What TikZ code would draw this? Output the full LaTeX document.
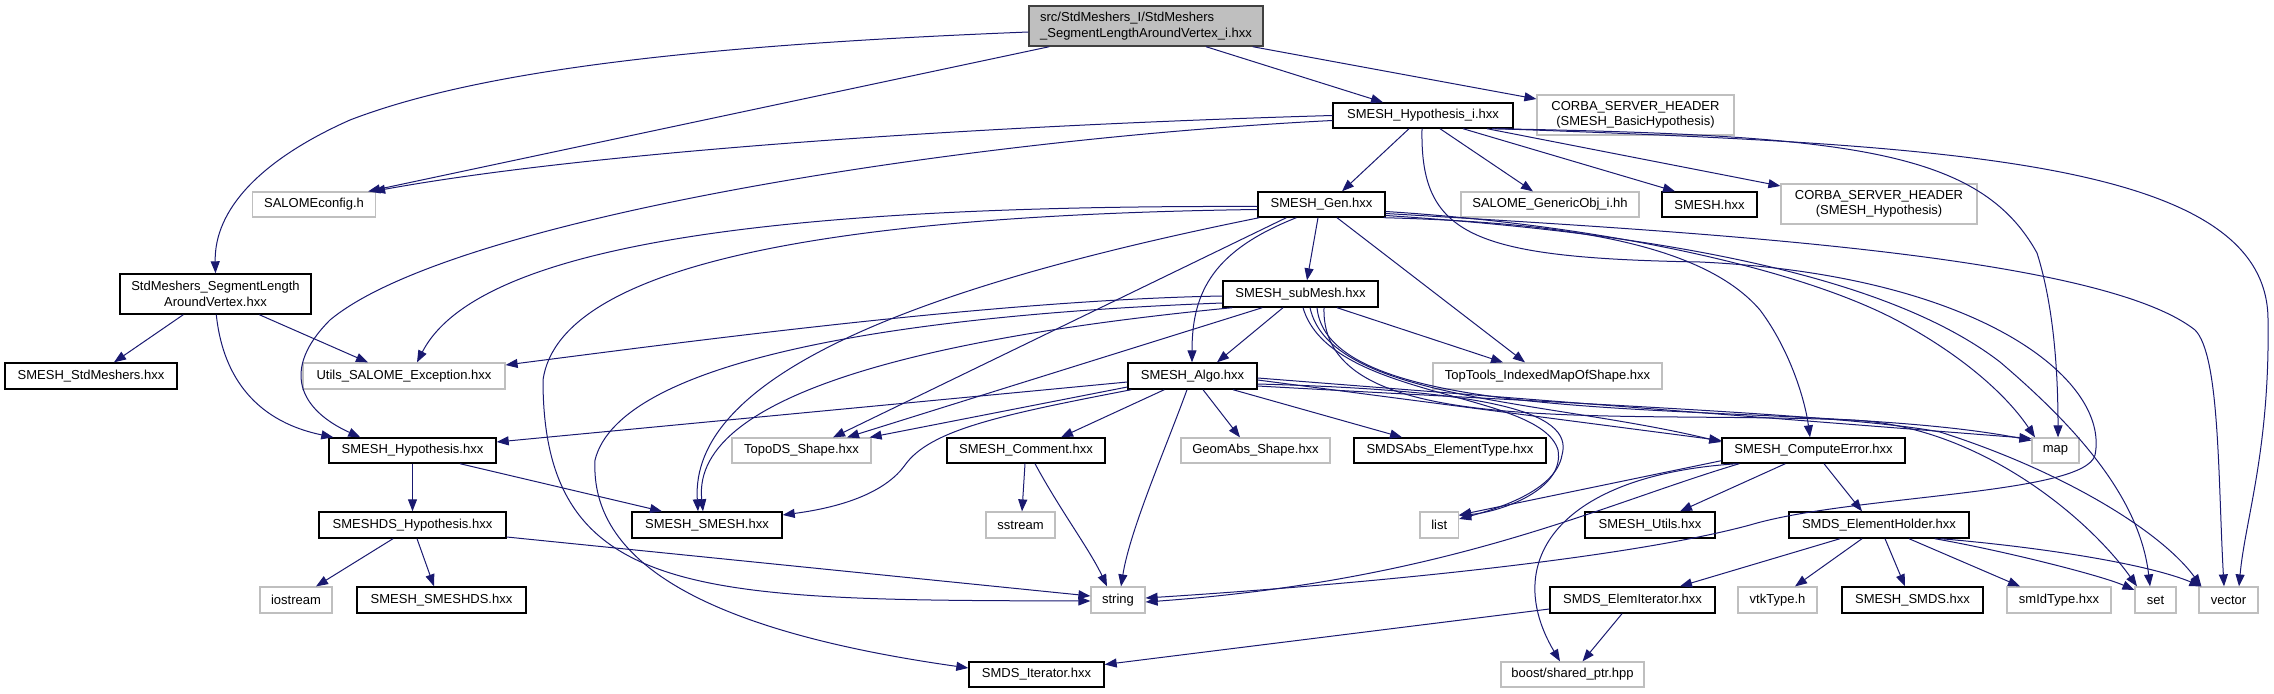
\documentclass[tikz,border=0pt]{standalone}
\usepackage{fontspec}
\setmainfont{Liberation Sans}
\usetikzlibrary{arrows.meta}
\definecolor{edgeblue}{HTML}{191970}
\definecolor{nodegrey}{HTML}{BFBFBF}
\definecolor{mainborder}{HTML}{404040}
\begin{document}
\begin{tikzpicture}[x=1pt,y=-1pt,
  nbase/.style={rectangle, inner sep=0pt, font=\fontsize{13}{15.5}\selectfont, align=center, text=black},
  doc/.style={nbase, draw=black, line width=1.4pt},
  undoc/.style={nbase, draw=nodegrey, line width=1.2pt},
  mainnode/.style={nbase, draw=mainborder, fill=nodegrey, line width=1.4pt, align=left},
  e/.style={draw=edgeblue, line width=1pt, -{Triangle[length=12pt,width=9pt]}},
]
\useasboundingbox (0,0) rectangle (2274,693);

% ---- nodes
\node[mainnode, minimum width=234pt, minimum height=40pt] (main) at (1146,26) {src/StdMeshers\_I/StdMeshers\\\_SegmentLengthAroundVertex\_i.hxx};
\node[doc, minimum width=180pt, minimum height=25pt] (hypi) at (1423,115.5) {SMESH\_Hypothesis\_i.hxx};
\node[undoc, minimum width=197pt, minimum height=40pt] (corbaB) at (1635.5,115) {CORBA\_SERVER\_HEADER\\(SMESH\_BasicHypothesis)};
\node[undoc, minimum width=123pt, minimum height=25pt] (salcfg) at (314,204.5) {SALOMEconfig.h};
\node[doc, minimum width=127pt, minimum height=25pt] (gen) at (1321.5,204.5) {SMESH\_Gen.hxx};
\node[undoc, minimum width=178pt, minimum height=25pt] (genobj) at (1550,204.5) {SALOME\_GenericObj\_i.hh};
\node[doc, minimum width=95pt, minimum height=25pt] (smesh) at (1709.5,204.5) {SMESH.hxx};
\node[undoc, minimum width=196pt, minimum height=40pt] (corbaH) at (1879,204) {CORBA\_SERVER\_HEADER\\(SMESH\_Hypothesis)};
\node[doc, minimum width=191pt, minimum height=40pt] (slav) at (215.5,294) {StdMeshers\_SegmentLength\\AroundVertex.hxx};
\node[doc, minimum width=155pt, minimum height=26pt] (submesh) at (1300.5,294) {SMESH\_subMesh.hxx};
\node[doc, minimum width=172pt, minimum height=26pt] (stdm) at (91,376) {SMESH\_StdMeshers.hxx};
\node[undoc, minimum width=202pt, minimum height=26pt] (utils) at (404,376) {Utils\_SALOME\_Exception.hxx};
\node[doc, minimum width=129pt, minimum height=26pt] (algo) at (1192.5,376) {SMESH\_Algo.hxx};
\node[undoc, minimum width=229pt, minimum height=26pt] (toptools) at (1547.5,376) {TopTools\_IndexedMapOfShape.hxx};
\node[doc, minimum width=167pt, minimum height=25pt] (hyp) at (412.5,450.5) {SMESH\_Hypothesis.hxx};
\node[undoc, minimum width=139pt, minimum height=25pt] (topods) at (801.5,450.5) {TopoDS\_Shape.hxx};
\node[doc, minimum width=158pt, minimum height=25pt] (comment) at (1026,450.5) {SMESH\_Comment.hxx};
\node[undoc, minimum width=149pt, minimum height=25pt] (geomabs) at (1255.5,450.5) {GeomAbs\_Shape.hxx};
\node[doc, minimum width=192pt, minimum height=25pt] (smdsabs) at (1450,450.5) {SMDSAbs\_ElementType.hxx};
\node[doc, minimum width=183pt, minimum height=25pt] (comperr) at (1813.5,450.5) {SMESH\_ComputeError.hxx};
\node[undoc, minimum width=47pt, minimum height=25pt] (map) at (2055.5,450.5) {map};
\node[doc, minimum width=187pt, minimum height=26pt] (smeshdsh) at (412.5,525) {SMESHDS\_Hypothesis.hxx};
\node[doc, minimum width=150pt, minimum height=26pt] (smeshsmesh) at (707,525) {SMESH\_SMESH.hxx};
\node[undoc, minimum width=69pt, minimum height=26pt] (sstream) at (1020.5,525) {sstream};
\node[undoc, minimum width=38.5pt, minimum height=26pt] (list) at (1439.25,525) {list};
\node[doc, minimum width=130pt, minimum height=26pt] (utilsh) at (1650,525) {SMESH\_Utils.hxx};
\node[doc, minimum width=180pt, minimum height=26pt] (elemholder) at (1879,525) {SMDS\_ElementHolder.hxx};
\node[undoc, minimum width=72pt, minimum height=26pt] (iostream) at (296,600) {iostream};
\node[doc, minimum width=169pt, minimum height=26pt] (smeshds) at (441.5,600) {SMESH\_SMESHDS.hxx};
\node[undoc, minimum width=54pt, minimum height=26pt] (string) at (1118,600) {string};
\node[doc, minimum width=165pt, minimum height=26pt] (elemiter) at (1632.5,600) {SMDS\_ElemIterator.hxx};
\node[undoc, minimum width=79pt, minimum height=26pt] (vtk) at (1777.5,600) {vtkType.h};
\node[doc, minimum width=141pt, minimum height=26pt] (smds) at (1912.5,600) {SMESH\_SMDS.hxx};
\node[undoc, minimum width=104pt, minimum height=26pt] (smid) at (2059,600) {smIdType.hxx};
\node[undoc, minimum width=41pt, minimum height=26pt] (set) at (2155.5,600) {set};
\node[undoc, minimum width=59pt, minimum height=26pt] (vector) at (2228.5,600) {vector};
\node[doc, minimum width=135pt, minimum height=25pt] (smdsiter) at (1036.5,674.5) {SMDS\_Iterator.hxx};
\node[undoc, minimum width=143pt, minimum height=25pt] (boost) at (1572.5,674.5) {boost/shared\_ptr.hpp};

% ---- edges: main
\draw[e] ([yshift=-6pt]main.west) .. controls (700,45) and (480,70) .. (350,120) .. controls (260,160) and (214,210) .. (slav.north);
\draw[e] ([xshift=21pt]main.south west) -- ([xshift=-8pt]salcfg.north east);
\draw[e] ([xshift=60pt]main.south) -- ([xshift=-40pt]hypi.north);
\draw[e] ([xshift=-11pt]main.south east) -- ([yshift=16pt]corbaB.west);

% ---- hypothesis_i
\draw[e] (hypi.west) .. controls (1000,125) and (600,150) .. ([xshift=-3pt]salcfg.north east);
\draw[e] ([yshift=-5pt]hypi.west) .. controls (950,140) and (450,220) .. (330,320) .. controls (280,370) and (300,410) .. ([xshift=32pt]hyp.north west);
\draw[e] ([xshift=-14pt]hypi.south) -- ([xshift=20.5pt]gen.north);
\draw[e] ([xshift=17pt]hypi.south) -- ([xshift=-17pt]genobj.north);
\draw[e] ([xshift=40pt]hypi.south) -- ([xshift=-34.5pt]smesh.north);
\draw[e] ([xshift=64pt]hypi.south) -- ([yshift=18pt]corbaH.west);
\draw[e] ([xshift=69pt]hypi.south) .. controls (1850,135) and (1980,150) .. (2037,253) .. controls (2055,310) and (2058,380) .. ([xshift=2.5pt]map.north);
\draw[e] ([xshift=74pt]hypi.south) .. controls (1950,145) and (2268,160) .. (2268,320) .. controls (2270,450) and (2245,520) .. ([xshift=10.5pt]vector.north);
\draw[e] ([xshift=-1pt]hypi.south) .. controls (1420,235) and (1470,258) .. (1700,262) .. controls (1980,275) and (2110,380) .. (2095,455) .. controls (2085,495) and (1850,495) .. (1750,525) .. controls (1620,560) and (1350,585) .. ([yshift=2pt]string.east);

% ---- StdMeshers_SegmentLengthAroundVertex
\draw[e] ([xshift=64pt]slav.south west) -- ([xshift=23pt]stdm.north);
\draw[e] ([xshift=97pt]slav.south west) .. controls (222,370) and (250,420) .. ([xshift=5pt]hyp.north west);
\draw[e] ([xshift=140pt]slav.south west) -- ([xshift=-36pt]utils.north);

% ---- SMESH_Gen
\draw[e] ([yshift=-2pt]gen.west) .. controls (800,205) and (480,240) .. ([xshift=13pt]utils.north);
\draw[e] ([yshift=-5pt]gen.west) .. controls (850,215) and (560,260) .. (543,380) .. controls (543,600) and (700,600) .. ([yshift=-1pt]string.west);
\draw[e] ([xshift=2pt]gen.south west) .. controls (900,290) and (690,380) .. ([xshift=-9pt]smeshsmesh.north);
\draw[e] ([xshift=29pt]gen.south west) -- ([xshift=31.5pt]topods.north);
\draw[e] ([xshift=39pt]gen.south west) .. controls (1215,250) and (1192,290) .. ([xshift=-0.5pt]algo.north);
\draw[e] ([xshift=-3.5pt]gen.south) -- ([xshift=6.5pt]submesh.north);
\draw[e] ([xshift=15.5pt]gen.south) -- ([xshift=-22.5pt]toptools.north);
\draw[e] ([xshift=-2pt]gen.south east) .. controls (1550,222) and (1700,240) .. (1760,310) .. controls (1790,350) and (1805,400) .. ([xshift=-3.5pt]comperr.north);
\draw[e] ([yshift=-9pt]gen.east) .. controls (1700,232) and (2100,255) .. (2195,330) .. controls (2220,355) and (2218,480) .. ([xshift=-4.5pt]vector.north);
\draw[e] ([yshift=-7pt]gen.east) .. controls (1600,225) and (1800,268) .. (1900,322) .. controls (1970,360) and (2010,400) .. ([xshift=-20.5pt]map.north);
\draw[e] ([yshift=-11pt]gen.east) .. controls (1700,236) and (1900,285) .. (2000,362) .. controls (2080,430) and (2140,500) .. ([xshift=-5.5pt]set.north);

% ---- SMESH_subMesh
\draw[e] ([yshift=-2pt]submesh.west) .. controls (1000,300) and (700,340) .. ([yshift=11pt]utils.east);
\draw[e] ([yshift=-9pt]submesh.west) .. controls (900,315) and (620,360) .. (595,460) .. controls (590,560) and (700,630) .. ([yshift=6.5pt]smdsiter.west);
\draw[e] ([xshift=10pt]submesh.south west) .. controls (950,335) and (690,390) .. ([xshift=-4pt]smeshsmesh.north);
\draw[e] ([xshift=40pt]submesh.south west) -- ([xshift=45.5pt]topods.north);
\draw[e] ([xshift=-17.5pt]submesh.south) -- ([xshift=24.5pt]algo.north);
\draw[e] ([xshift=36.5pt]submesh.south) -- ([xshift=-44.5pt]toptools.north);
\draw[e] ([xshift=2.5pt]submesh.south) .. controls (1330,400) and (1540,390) .. (1558,450) .. controls (1565,490) and (1500,512) .. ([yshift=-4pt]list.north east);
\draw[e] ([xshift=9.5pt]submesh.south) .. controls (1330,400) and (1550,400) .. ([yshift=8.5pt]comperr.west);
\draw[e] ([xshift=16.5pt]submesh.south) .. controls (1330,440) and (1800,395) .. ([yshift=10pt]map.west);
\draw[e] ([xshift=23.5pt]submesh.south) .. controls (1320,440) and (1600,410) .. (1850,420) .. controls (1980,425) and (2090,520) .. ([xshift=-18.5pt]set.north);

% ---- SMESH_Algo
\draw[e] ([yshift=-6pt]algo.west) -- ([yshift=8.5pt]hyp.east);
\draw[e] ([yshift=-11pt]algo.west) -- ([xshift=-2pt]topods.north east);
\draw[e] ([xshift=4pt]algo.south west) .. controls (1000,415) and (930,430) .. (905,465) .. controls (880,500) and (820,510) .. ([yshift=10pt]smeshsmesh.east);
\draw[e] ([xshift=37pt]algo.south west) -- ([xshift=35pt]comment.north);
\draw[e] ([xshift=-5.5pt]algo.south) .. controls (1165,450) and (1130,530) .. ([xshift=3pt]string.north);
\draw[e] ([xshift=10.5pt]algo.south) -- ([xshift=-15.5pt]geomabs.north);
\draw[e] ([xshift=40.5pt]algo.south) -- ([xshift=-48pt]smdsabs.north);
\draw[e] ([yshift=-4pt]algo.east) -- ([yshift=10pt]comperr.west);
\draw[e] ([yshift=-2pt]algo.east) -- ([yshift=12pt]map.west);
\draw[e] ([yshift=-8pt]algo.east) .. controls (1480,390) and (1575,410) .. (1562,455) .. controls (1556,490) and (1500,508) .. ([yshift=6pt]list.east);
\draw[e] ([yshift=-10pt]algo.east) .. controls (1600,405) and (1850,415) .. (1940,432) .. controls (2060,470) and (2160,530) .. ([xshift=3pt]vector.north west);

% ---- SMESH_Hypothesis
\draw[e] (hyp.south) -- (smeshdsh.north);
\draw[e] ([xshift=47.5pt]hyp.south) -- ([xshift=-45pt]smeshsmesh.north);

% ---- SMESHDS_Hypothesis
\draw[e] ([xshift=-19.5pt]smeshdsh.south) -- ([xshift=20pt]iostream.north);
\draw[e] ([xshift=4.5pt]smeshdsh.south) -- ([xshift=-7.5pt]smeshds.north);
\draw[e] ([yshift=-12pt]smeshdsh.east) -- ([yshift=4pt]string.west);

% ---- SMESH_Comment
\draw[e] ([xshift=-1pt]comment.south) -- ([xshift=1.5pt]sstream.north);
\draw[e] ([xshift=9pt]comment.south) .. controls (1060,510) and (1090,550) .. ([xshift=-11pt]string.north);

% ---- SMESH_ComputeError
\draw[e] ([yshift=3pt]comperr.south west) -- ([yshift=10pt]list.east);
\draw[e] ([xshift=18pt]comperr.south west) .. controls (1600,505) and (1450,580) .. ([yshift=-2pt]string.east);
\draw[e] ([xshift=64pt]comperr.south west) -- ([xshift=30pt]utilsh.north);
\draw[e] ([xshift=10.5pt]comperr.south) -- ([xshift=-17pt]elemholder.north);
\draw[e] ([xshift=16pt]comperr.south west) .. controls (1560,475) and (1500,560) .. ([xshift=-12.5pt]boost.north);

% ---- SMDS_ElementHolder
\draw[e] ([xshift=-39pt]elemholder.south) -- ([xshift=47.5pt]elemiter.north);
\draw[e] ([xshift=-17pt]elemholder.south) -- ([xshift=17.5pt]vtk.north);
\draw[e] ([xshift=6pt]elemholder.south) -- ([xshift=-7.5pt]smds.north);
\draw[e] ([xshift=30pt]elemholder.south) -- ([xshift=-39pt]smid.north);
\draw[e] ([xshift=-35pt]elemholder.south east) .. controls (2000,550) and (2100,575) .. ([yshift=10pt]set.west);
\draw[e] ([xshift=-29pt]elemholder.south east) .. controls (2050,548) and (2150,565) .. ([xshift=3pt]vector.north west);

% ---- SMDS_ElemIterator
\draw[e] ([yshift=-9pt]elemiter.west) -- ([yshift=10pt]smdsiter.east);
\draw[e] ([xshift=-10.5pt]elemiter.south) -- ([xshift=10pt]boost.north);

\end{tikzpicture}
\end{document}
